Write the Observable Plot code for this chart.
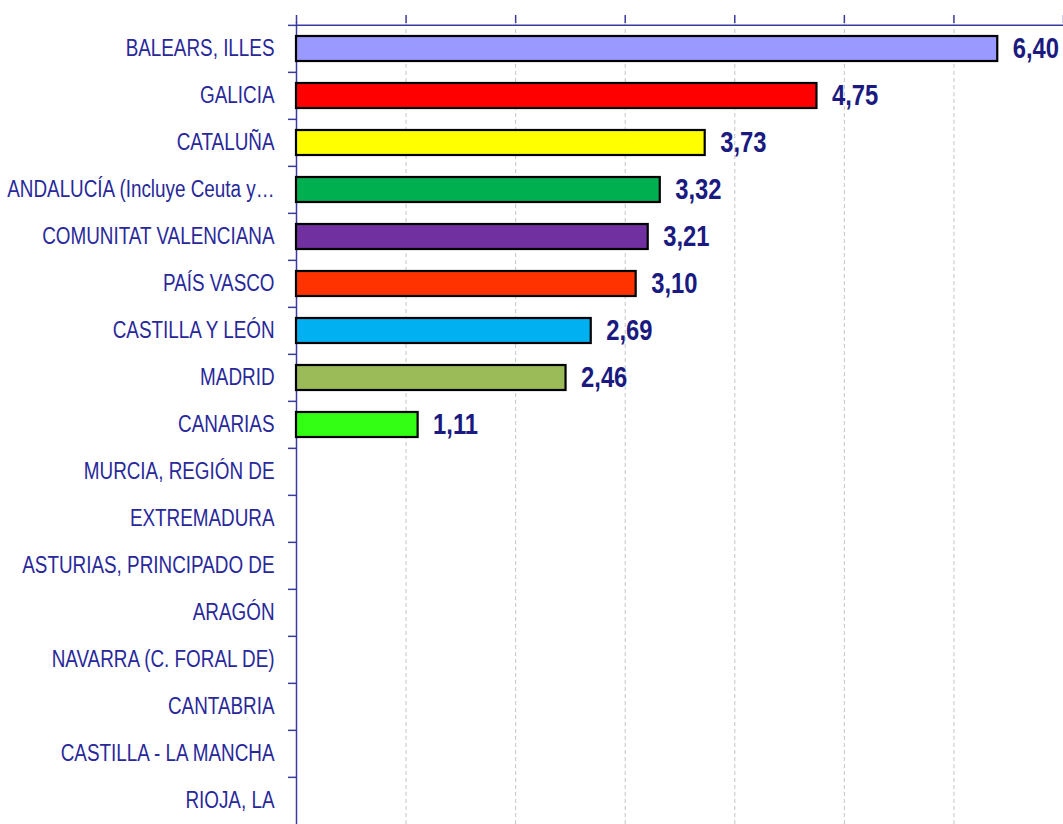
<!DOCTYPE html>
<html>
<head>
<meta charset="utf-8">
<script src="https://cdn.jsdelivr.net/npm/d3@7"></script>
<script src="https://cdn.jsdelivr.net/npm/@observablehq/plot@0.6"></script>
<style>
  html, body { margin: 0; padding: 0; background: #ffffff; overflow: hidden; }
  #chart svg { display: block; }
</style>
</head>
<body>
<div id="chart"></div>
<script>
const categories = [
  "BALEARS, ILLES",
  "GALICIA",
  "CATALUÑA",
  "ANDALUCÍA (Incluye Ceuta y…",
  "COMUNITAT VALENCIANA",
  "PAÍS VASCO",
  "CASTILLA Y LEÓN",
  "MADRID",
  "CANARIAS",
  "MURCIA, REGIÓN DE",
  "EXTREMADURA",
  "ASTURIAS, PRINCIPADO DE",
  "ARAGÓN",
  "NAVARRA (C. FORAL DE)",
  "CANTABRIA",
  "CASTILLA - LA MANCHA",
  "RIOJA, LA"
];
const values = [6.40, 4.75, 3.73, 3.32, 3.21, 3.10, 2.69, 2.46, 1.11, null, null, null, null, null, null, null, null];
const barColors = ["#9999ff", "#ff0000", "#ffff00", "#00b050", "#7030a0", "#ff3300", "#00b0f0", "#9bbb59", "#33ff15", null, null, null, null, null, null, null, null];
const xTicks = [0, 1, 2, 3, 4, 5, 6, 7];

const data = categories.map((c, i) => ({cat: c, value: values[i], color: barColors[i]}));
const bars = data.filter(d => d.value != null);

const W = 1063, H = 826, mTop = 22, mLeft = 296;
const step = (H - mTop) / categories.length;
const axisColor = "#3b3b9e";
const font = "'Liberation Sans', Arial, sans-serif";
const narrow = 0.82;

const chart = Plot.plot({
  width: W,
  height: H,
  marginTop: mTop,
  marginLeft: mLeft,
  marginRight: 0,
  marginBottom: 0,
  style: {background: "#ffffff", fontFamily: font, overflow: "visible"},
  x: {domain: [0, 7], axis: null},
  y: {domain: categories, type: "band", paddingInner: 0.47, paddingOuter: 0.235, axis: null},
  marks: [
    Plot.ruleX(xTicks.slice(1), {stroke: "#c4c4c4", strokeDasharray: "4,3", strokeWidth: 1}),
    Plot.axisX({anchor: "top", ticks: xTicks, tickSize: 8, tickFormat: () => "", label: null, stroke: axisColor, strokeWidth: 1.5}),
    Plot.ruleX([0], {stroke: axisColor, strokeWidth: 1.5}),
    Plot.ruleY([categories[0]], {dy: -step / 2, stroke: axisColor, strokeWidth: 1.5}),
    Plot.axisY({anchor: "left", tickSize: 8, dy: -step / 2, tickFormat: () => "", label: null, stroke: axisColor, strokeWidth: 1.5}),
    Plot.axisY({anchor: "left", tickSize: 0, tickPadding: 22, label: null, fontSize: 23, fill: "#28289a", fontFamily: font}),
    Plot.barX(bars, {x: "value", y: "cat", fill: "color", stroke: "#000000", strokeWidth: 2.2}),
    Plot.text(bars, {x: "value", y: "cat", text: d => d.value.toFixed(2).replace(".", ","), dx: 15, textAnchor: "start", fontSize: 29, fontWeight: "bold", fill: "#1a1a80", fontFamily: font})
  ]
});
document.getElementById("chart").appendChild(chart);

// condense the type to imitate a narrow face
d3.select(chart).selectAll("text").each(function() {
  const len = this.getComputedTextLength();
  if (len > 0) {
    this.setAttribute("textLength", (len * narrow).toFixed(2));
    this.setAttribute("lengthAdjust", "spacingAndGlyphs");
  }
});
</script>
</body>
</html>
